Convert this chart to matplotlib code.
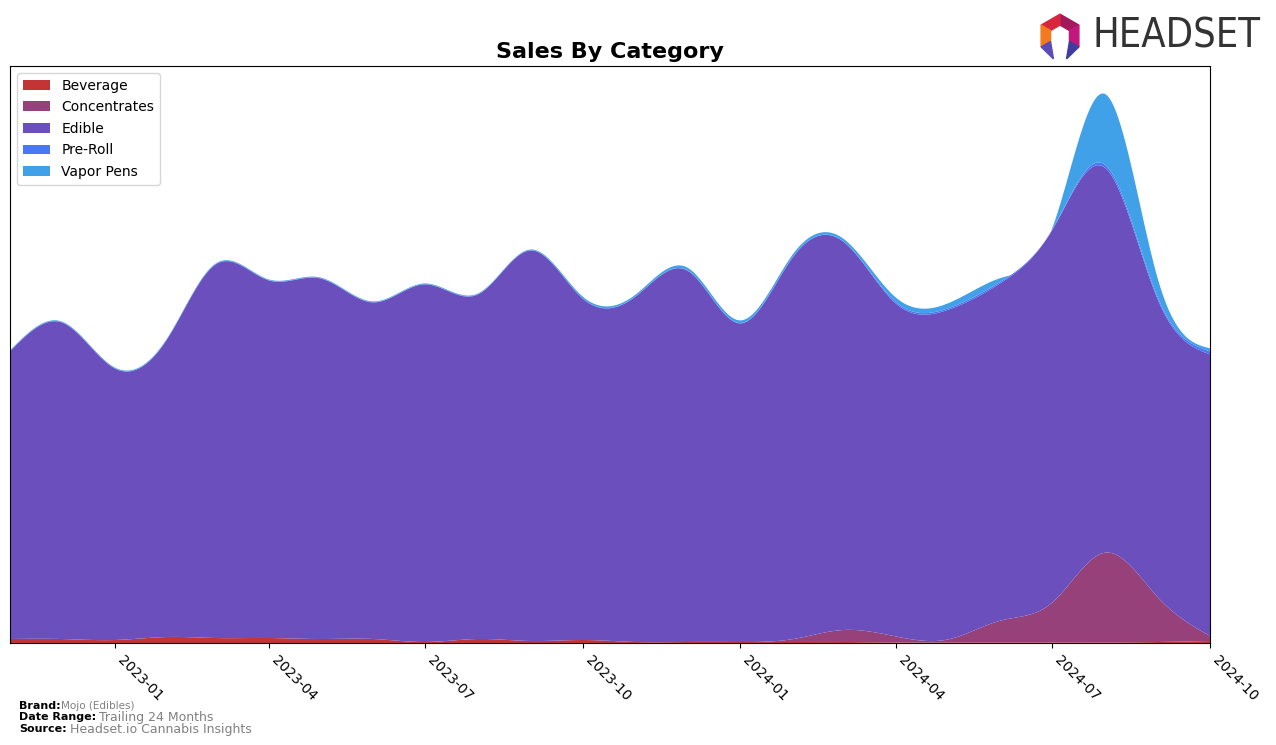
import numpy as np
import pandas as pd
import matplotlib
matplotlib.use("Agg")
import matplotlib.pyplot as plt
import matplotlib.dates as mdates
from matplotlib.patches import Polygon

# monthly sales by category (arbitrary units)
months = pd.date_range("2022-11-01", "2024-10-01", freq="MS")
categories = ["Beverage", "Concentrates", "Edible", "Pre-Roll", "Vapor Pens"]
beverage = [4, 4, 3, 6, 5, 5, 4, 4, 1, 4, 2, 3, 1, 1, 1, 1, 1, 0.5, 0.5, 0.5, 0.5, 0.5, 1, 2]
concentrates = [0, 0, 0, 0, 0, 0, 0, 0, 0, 0, 0, 0, 0, 0, 0, 3, 12, 6, 3, 22, 40, 90, 44, 5]
edible = [288, 317, 272, 299, 374, 358, 361, 337, 358, 345, 391, 342, 346, 372, 319,
          383, 389, 333, 330, 338, 373, 385, 297, 282]
pre_roll = [0.3] * 17 + [1.5, 1.5, 1.5, 0.5, 3, 2, 3]
vapor_pens = [0.7, 0.7, 0.7, 0.7, 0.7, 0.7, 0.7, 0.7, 0.7, 0.7, 0.7, 1.7, 1.7, 2.7,
              2.7, 2.7, 2.7, 4.5, 5.0, 3.5, 1.5, 71, 18, 3]
colors = ["#c43434", "#96417a", "#6a4fbd", "#4a76f8", "#40a0e8"]


def smooth(x, y, xs):
    # natural cubic spline, no scipy needed
    x = np.asarray(x, float)
    y = np.asarray(y, float)
    n = len(x)
    h = np.diff(x)
    A = np.zeros((n, n))
    r = np.zeros(n)
    A[0, 0] = A[-1, -1] = 1
    for i in range(1, n - 1):
        A[i, i - 1] = h[i - 1]
        A[i, i] = 2 * (h[i - 1] + h[i])
        A[i, i + 1] = h[i]
        r[i] = 3 * ((y[i + 1] - y[i]) / h[i] - (y[i] - y[i - 1]) / h[i - 1])
    c = np.linalg.solve(A, r)
    b = (y[1:] - y[:-1]) / h - h * (2 * c[:-1] + c[1:]) / 3
    d = (c[1:] - c[:-1]) / (3 * h)
    k = np.clip(np.searchsorted(x, xs) - 1, 0, n - 2)
    t = xs - x[k]
    return y[k] + b[k] * t + c[k] * t ** 2 + d[k] * t ** 3


xn = mdates.date2num(months)
xs = np.linspace(xn[0], xn[-1], 800)
series = [beverage, concentrates, edible, pre_roll, vapor_pens]
ys = [np.clip(smooth(xn, s, xs), 0, None) for s in series]

fig = plt.figure(figsize=(12.76, 7.45), dpi=100)
ax = fig.add_axes([10 / 1276, 102 / 745, 1200 / 1276, 577 / 745])
ax.stackplot(xs, *ys, labels=categories, colors=colors, linewidth=0)

total = np.sum(ys, axis=0)
ax.set_ylim(0, total.max() * 1.05)
ax.set_xlim(xn[0], xn[-1])
ax.set_yticks([])
ax.xaxis.set_major_locator(mdates.MonthLocator(bymonth=[1, 4, 7, 10]))
ax.xaxis.set_major_formatter(mdates.DateFormatter("%Y-%m"))
plt.setp(ax.get_xticklabels(), rotation=-45, ha="left", fontsize=10)
ax.set_title("Sales By Category", fontsize=16, fontweight="bold", pad=6)
ax.legend(loc="upper left", fontsize=10, handlelength=2, labelspacing=0.55)

# footer
fig.text(19 / 1276, 1 - 706 / 745, "Brand:", fontsize=8, fontweight="bold", va="center")
fig.text(61 / 1276, 1 - 706 / 745, "Mojo (Edibles)", fontsize=7.5, color="gray", va="center")
fig.text(19 / 1276, 1 - 717 / 745, "Date Range:", fontsize=8, fontweight="bold", va="center")
fig.text(99 / 1276, 1 - 717 / 745, "Trailing 24 Months", fontsize=9, color="gray", va="center")
fig.text(19 / 1276, 1 - 729 / 745, "Source:", fontsize=8, fontweight="bold", va="center")
fig.text(70 / 1276, 1 - 729 / 745, "Headset.io Cannabis Insights", fontsize=9, color="gray", va="center")

# logo
fig.text(1092 / 1276, 1 - 37 / 745, "HEADSET", fontsize=28.5, color="#333333",
         va="center", ha="left", fontstretch="condensed")
lax = fig.add_axes([1036 / 1276, 1 - 60 / 745, 48 / 1276, 48 / 745])
lax.set_xlim(-1.1, 1.1)
lax.set_ylim(-1.1, 1.1)
lax.axis("off")
ang = np.deg2rad([90, 30, -30, -90, -150, 150])
outer = np.c_[np.cos(ang), np.sin(ang)]
inner = outer * 0.5
segs = [(0, 1, "#a3195b"), (5, 0, "#d7263d"), (4, 5, "#f47a20"), (1, 2, "#c2187e")]
for a, b, col in segs:
    lax.add_patch(Polygon([outer[a], outer[b], inner[b], inner[a]], color=col))
lax.add_patch(Polygon([outer[4], inner[4], [-0.3, -1.05]], color="#5b4bb7"))
lax.add_patch(Polygon([outer[2], inner[2], [0.3, -1.05]], color="#3f3c9e"))
lax.set_aspect("equal")

fig.savefig("out.png", dpi=100)
